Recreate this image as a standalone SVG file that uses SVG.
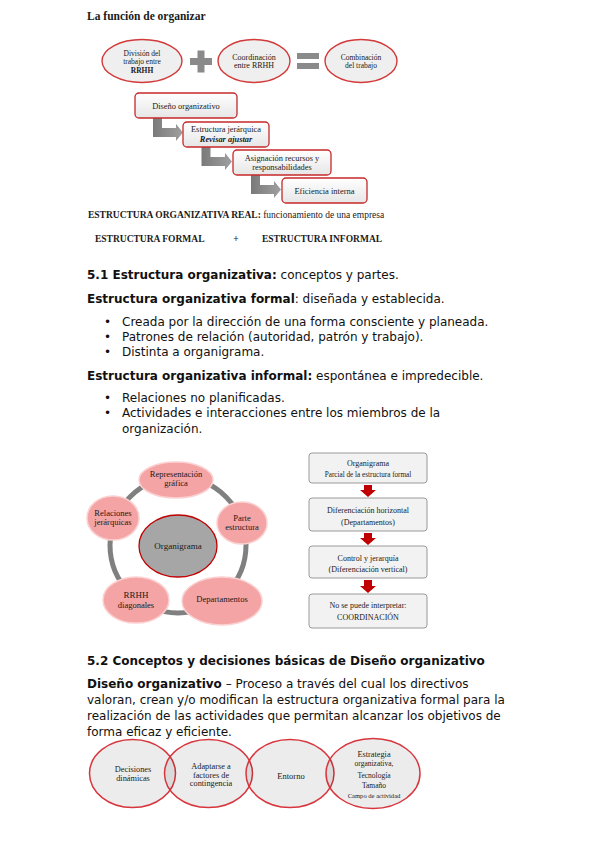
<svg xmlns="http://www.w3.org/2000/svg" width="599" height="848" viewBox="0 0 599 848">
<style>
.body{font-family:"DejaVu Sans","Noto Sans",sans-serif;font-size:12px;fill:#111}
.b{font-weight:bold}
.ser{font-family:"Liberation Serif","Times New Roman",serif;fill:#1a1a1a}
.e1{fill:#efefef;stroke:#d33a3a;stroke-width:1.4}
.fb{fill:url(#gbox);stroke:#c62828;stroke-width:1.3}
.ga{fill:url(#garr)}
.sat{fill:#f4a4a4;stroke:#fbd0d0;stroke-width:1.5}
.rb{fill:#f2f2f2;stroke:#9a9a9a;stroke-width:1}
.ra{fill:#c00000}
.ve{fill:#000;fill-opacity:0.075;stroke:none}
.vs{fill:none;stroke:#d8363e;stroke-width:1.5}
.t7{font-size:7.5px}
.t8{font-size:8.4px}
.ts{font-size:8.5px}
.tr{font-size:8px}
.tv{font-size:8.3px}
</style>
<defs>
<linearGradient id="gbox" x1="0" y1="0" x2="0" y2="1">
<stop offset="0" stop-color="#ffffff"/>
<stop offset="1" stop-color="#e6e6e6"/>
</linearGradient>
<linearGradient id="garr" x1="0" y1="0" x2="1" y2="0">
<stop offset="0" stop-color="#7a7a7a"/>
<stop offset="1" stop-color="#a0a0a0"/>
</linearGradient>
</defs>
<rect width="599" height="848" fill="#fff"/>

<text class="ser b" x="87" y="20" font-size="11.5">La función de organizar</text>

<g id="n-division">
<ellipse class="e1" cx="142" cy="61" rx="40" ry="21.5"/>
<text class="ser t7" text-anchor="middle"><tspan x="142" y="56">División del</tspan><tspan x="142" y="64">trabajo entre</tspan><tspan x="142" y="72.5" font-weight="bold">RRHH</tspan></text>
</g>
<g id="op-plus">
<rect x="190" y="58" width="22" height="7" fill="#8a8a8a"/>
<rect x="197.5" y="50.5" width="7" height="22" fill="#8a8a8a"/>
</g>
<g id="n-coordinacion">
<ellipse class="e1" cx="254" cy="61" rx="36" ry="21.5"/>
<text class="ser" font-size="8" text-anchor="middle"><tspan x="254" y="59.5">Coordinación</tspan><tspan x="254" y="67.5">entre RRHH</tspan></text>
</g>
<g id="op-equals">
<rect x="297" y="53" width="22" height="6" fill="#8a8a8a"/>
<rect x="297" y="63" width="22" height="6" fill="#8a8a8a"/>
</g>
<g id="n-combinacion">
<ellipse class="e1" cx="361" cy="61" rx="36" ry="21.5"/>
<text class="ser t7" text-anchor="middle"><tspan x="361" y="59.5">Combinación</tspan><tspan x="361" y="67.5">del trabajo</tspan></text>
</g>

<g id="connectors">
<path class="ga" d="M153,118 H162 V128 H176 V124 L183,132.5 L176,141 V137 H153 Z"/>
<path class="ga" d="M201.5,147 H210.5 V157 H225 V153 L232,161.5 L225,170 V166 H201.5 Z"/>
<path class="ga" d="M251,175 H260 V185 H274 V181 L281,189.5 L274,198 V194 H251 Z"/>
<path class="ra" d="M364,485 H372 V490 H376 L368,497 L360,490 H364 Z"/>
<path class="ra" d="M364,533 H372 V538 H376 L368,545 L360,538 H364 Z"/>
<path class="ra" d="M364,580 H372 V586 H376 L368,593 L360,586 H364 Z"/>
<circle cx="178" cy="545" r="68" fill="none" stroke="#808080" stroke-width="5"/>
</g>

<g id="n-diseno">
<rect class="fb" x="135" y="93" width="102" height="25" rx="4"/>
<text class="ser t8" x="186" y="108.5" text-anchor="middle">Diseño organizativo</text>
</g>
<g id="n-estructura">
<rect class="fb" x="183" y="122" width="86" height="25" rx="4"/>
<text class="ser t8" text-anchor="middle"><tspan x="226" y="132">Estructura jerárquica</tspan><tspan x="226" y="141.5" font-weight="bold" font-style="italic">Revisar ajustar</tspan></text>
</g>
<g id="n-asignacion">
<rect class="fb" x="233" y="150" width="98" height="25" rx="4"/>
<text class="ser t8" text-anchor="middle"><tspan x="282" y="160.5">Asignación recursos y</tspan><tspan x="282" y="169.5">responsabilidades</tspan></text>
</g>
<g id="n-eficiencia">
<rect class="fb" x="282" y="178" width="85" height="25" rx="4"/>
<text class="ser ts" x="324.5" y="193.5" text-anchor="middle">Eficiencia interna</text>
</g>

<text class="ser" x="88" y="218" font-size="9.5"><tspan font-weight="bold">ESTRUCTURA ORGANIZATIVA REAL:</tspan> funcionamiento de una empresa</text>
<text class="ser b" x="95" y="242" font-size="9.5">ESTRUCTURA FORMAL</text>
<text class="ser b" x="236" y="242" font-size="9.5" text-anchor="middle">+</text>
<text class="ser b" x="262" y="242" font-size="9.5">ESTRUCTURA INFORMAL</text>

<text class="body" x="87" y="279"><tspan class="b">5.1 Estructura organizativa:</tspan> conceptos y partes.</text>
<text class="body" x="87" y="303"><tspan class="b">Estructura organizativa formal</tspan>: diseñada y establecida.</text>
<text class="body" x="104" y="326">•</text>
<text class="body" x="122" y="326">Creada por la dirección de una forma consciente y planeada.</text>
<text class="body" x="104" y="341">•</text>
<text class="body" x="122" y="341">Patrones de relación (autoridad, patrón y trabajo).</text>
<text class="body" x="104" y="356">•</text>
<text class="body" x="122" y="356">Distinta a organigrama.</text>
<text class="body" x="87" y="380"><tspan class="b">Estructura organizativa informal:</tspan> espontánea e impredecible.</text>
<text class="body" x="104" y="402">•</text>
<text class="body" x="122" y="402">Relaciones no planificadas.</text>
<text class="body" x="104" y="417">•</text>
<text class="body" x="122" y="417">Actividades e interacciones entre los miembros de la</text>
<text class="body" x="122" y="433">organización.</text>

<g id="n-representacion">
<ellipse class="sat" cx="176" cy="480" rx="37" ry="18"/>
<text class="ser ts" text-anchor="middle"><tspan x="176" y="476.5">Representación</tspan><tspan x="176" y="486">gráfica</tspan></text>
</g>
<g id="n-parte">
<ellipse class="sat" cx="242" cy="523" rx="25" ry="21"/>
<text class="ser ts" text-anchor="middle"><tspan x="242" y="520.5">Parte</tspan><tspan x="242" y="530">estructura</tspan></text>
</g>
<g id="n-departamentos">
<ellipse class="sat" cx="222" cy="601" rx="40" ry="24"/>
<text class="ser ts" x="222" y="601.5" text-anchor="middle">Departamentos</text>
</g>
<g id="n-rrhh">
<ellipse class="sat" cx="136" cy="600" rx="33" ry="23"/>
<text class="ser ts" text-anchor="middle"><tspan x="136" y="598" font-size="9">RRHH</tspan><tspan x="136" y="608">diagonales</tspan></text>
</g>
<g id="n-relaciones">
<ellipse class="sat" cx="113" cy="518" rx="26" ry="22"/>
<text class="ser ts" text-anchor="middle"><tspan x="113" y="515.5">Relaciones</tspan><tspan x="113" y="524.5">jerárquicas</tspan></text>
</g>
<g id="n-organigrama">
<ellipse cx="178" cy="546" rx="39" ry="31" fill="#a6a6a6" stroke="#c00000" stroke-width="1.3"/>
<text class="ser" x="178" y="548.5" font-size="9" text-anchor="middle">Organigrama</text>
</g>

<g id="n-org-parcial">
<rect class="rb" x="309" y="453" width="118" height="30" rx="3"/>
<text class="ser tr" text-anchor="middle"><tspan x="368" y="466">Organigrama</tspan><tspan x="368" y="477" font-size="7.2">Parcial de la estructura formal</tspan></text>
</g>
<g id="n-dif-horizontal">
<rect class="rb" x="309" y="498" width="118" height="33" rx="3"/>
<text class="ser tr" text-anchor="middle"><tspan x="368" y="513">Diferenciación horizontal</tspan><tspan x="368" y="525">(Departamentos)</tspan></text>
</g>
<g id="n-control">
<rect class="rb" x="309" y="546" width="118" height="32" rx="3"/>
<text class="ser tr" text-anchor="middle"><tspan x="368" y="561">Control y jerarquía</tspan><tspan x="368" y="571.5">(Diferenciación vertical)</tspan></text>
</g>
<g id="n-coordinacion2">
<rect class="rb" x="309" y="594" width="118" height="34" rx="3"/>
<text class="ser tr" text-anchor="middle"><tspan x="368" y="608">No se puede interpretar:</tspan><tspan x="368" y="620">COORDINACIÓN</tspan></text>
</g>

<text class="body" x="87" y="665"><tspan class="b">5.2 Conceptos y decisiones básicas de Diseño organizativo</tspan></text>
<text class="body" x="87" y="688"><tspan class="b">Diseño organizativo</tspan> – Proceso a través del cual los directivos</text>
<text class="body" x="87" y="704">valoran, crean y/o modifican la estructura organizativa formal para la</text>
<text class="body" x="87" y="720">realización de las actividades que permitan alcanzar los objetivos de</text>
<text class="body" x="87" y="736">forma eficaz y eficiente.</text>

<g id="n-decisiones">
<ellipse class="ve" cx="132.5" cy="773.5" rx="43" ry="34"/>
<ellipse class="vs" cx="132.5" cy="773.5" rx="43" ry="34"/>
<text class="ser tv" text-anchor="middle"><tspan x="133" y="772">Decisiones</tspan><tspan x="133" y="781">dinámicas</tspan></text>
</g>
<g id="n-adaptarse">
<ellipse class="ve" cx="208.5" cy="773.5" rx="44" ry="34"/>
<ellipse class="vs" cx="208.5" cy="773.5" rx="44" ry="34"/>
<text class="ser tv" text-anchor="middle"><tspan x="211" y="769">Adaptarse a</tspan><tspan x="211" y="777.5">factores de</tspan><tspan x="211" y="786">contingencia</tspan></text>
</g>
<g id="n-entorno">
<ellipse class="ve" cx="290" cy="773.5" rx="44" ry="34"/>
<ellipse class="vs" cx="290" cy="773.5" rx="44" ry="34"/>
<text class="ser" font-size="8.5" x="291" y="779" text-anchor="middle">Entorno</text>
</g>
<g id="n-estrategia">
<ellipse class="ve" cx="373" cy="773.5" rx="47" ry="35"/>
<ellipse class="vs" cx="373" cy="773.5" rx="47" ry="35"/>
<text class="ser" font-size="7.5" text-anchor="middle"><tspan x="374" y="757" font-size="8.3">Estrategia</tspan><tspan x="374" y="766">organizativa,</tspan><tspan x="374" y="777.5">Tecnología</tspan><tspan x="374" y="787.5">Tamaño</tspan><tspan x="374" y="797.5" font-size="6.6">Campo de actividad</tspan></text>
</g>
</svg>
